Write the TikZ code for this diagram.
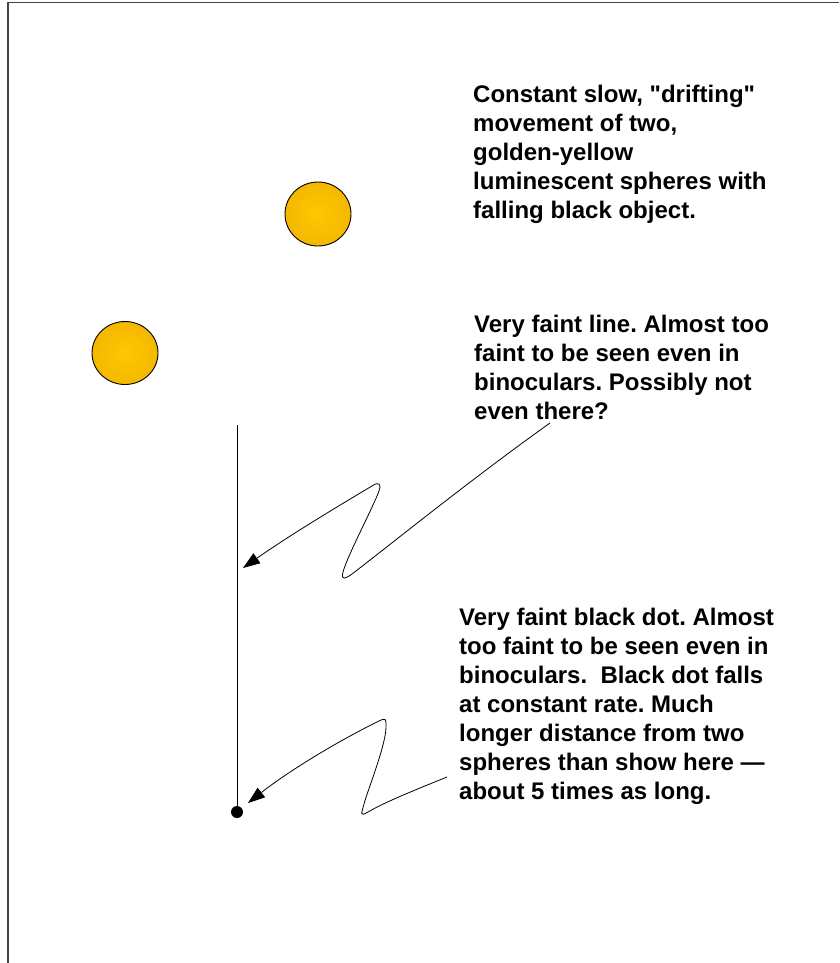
\documentclass[tikz,border=0pt]{standalone}
\usepackage{fontspec}
\setmainfont{Liberation Sans}[Ligatures=TeXOff]
\usetikzlibrary{arrows.meta}
\definecolor{sphin}{HTML}{FFC700}
\definecolor{sphout}{HTML}{F4B800}
\definecolor{framecol}{HTML}{444444}
\frenchspacing
\begin{document}
\begin{tikzpicture}[x=1pt,y=-1pt,
  frameline/.style={draw=framecol,line width=1.6pt},
  sphere/.style={draw=black,line width=0.9pt,inner color=sphin,outer color=sphout},
  note/.style={anchor=north west,inner sep=0pt,align=left,font=\bfseries\fontsize{24}{29}\selectfont},
  squiggle/.style={draw=black,line width=0.8pt,-{Triangle[length=17pt,width=12pt]}},
  faintline/.style={draw=black,line width=0.9pt}]
\useasboundingbox (0,0) rectangle (839,963);
% frame (top and left edges)
\draw[frameline] (8,963) -- (8,2.5) -- (839,2.5);
% spheres
\shade[sphere] (318,214) ellipse [x radius=33, y radius=32];
\shade[sphere] (125,353) ellipse [x radius=33, y radius=31.5];
% faint line and dot
\coordinate (ltop) at (237,425);
\node[circle,fill=black,inner sep=0pt,minimum size=12pt] (dot) at (237,812) {};
\draw[faintline] (ltop) -- (dot.center);
% texts
\node[note] (t1) at (473,85) {Constant slow, "drifting"\\movement of two,\\golden-yellow\\luminescent spheres with\\falling black object.};
\node[note] (t2) at (474,315) {Very faint line. Almost too\\faint to be seen even in\\binoculars. Possibly not\\even there?};
\node[note] (t3) at (459,608) {Very faint black dot. Almost\\too faint to be seen even in\\binoculars.~ Black dot falls\\at constant rate. Much\\longer distance from two\\spheres than show here —\\about 5 times as long.};
% connector endpoints
\coordinate (a1s) at (550,423);
\coordinate (a1e) at (243,568);
\coordinate (a2s) at (447,777);
\coordinate (a2e) at (248,803);
% squiggly arrows
\draw[squiggle] (a1s) .. controls (470,480) and (390,545) .. (352,574)
  .. controls (342.5,581) and (340,579) .. (345,566)
  .. controls (352,547) and (374,505) .. (379,491)
  .. controls (381.7,483.5) and (378.6,481.4) .. (372,486)
  .. controls (340,505) and (290,535) .. (a1e);
\draw[squiggle] (a2s) .. controls (415,790) and (385,802) .. (368,812)
  .. controls (359.4,817) and (361.5,813.7) .. (364,804)
  .. controls (367,792) and (386,745) .. (386,727)
  .. controls (386,719) and (386.2,717.4) .. (379,721)
  .. controls (340,740) and (290,770) .. (a2e);
\end{tikzpicture}
\end{document}
